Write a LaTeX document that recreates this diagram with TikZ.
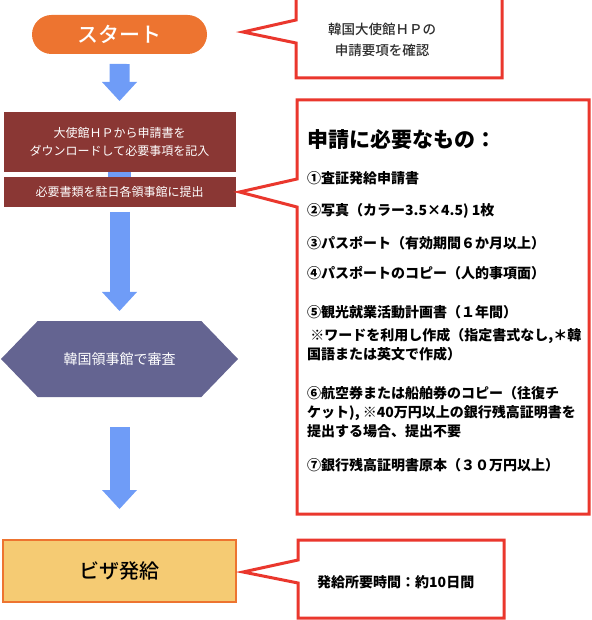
\documentclass[tikz,border=0pt]{standalone}
\usepackage{fontspec}
\setmainfont{Noto Sans CJK JP}
\IfFontExistsTF{Noto Sans CJK JP Medium}{\newfontfamily\medfont{Noto Sans CJK JP Medium}}{\newcommand\medfont{\bfseries}}
\usepackage{tikz}
\usetikzlibrary{shapes.misc, shapes.symbols, arrows.meta, positioning, calc}
\usepackage{xcolor}
\definecolor{startorange}{RGB}{237,116,48}
\definecolor{arrowblue}{RGB}{111,156,247}
\definecolor{formred}{RGB}{138,55,52}
\definecolor{reviewpurple}{RGB}{100,100,145}
\definecolor{visayellow}{RGB}{245,203,115}
\definecolor{notered}{RGB}{234,55,45}
\definecolor{notegray}{RGB}{45,45,45}
\tikzstyle{flowbox} = [rectangle, inner sep=0pt, outer sep=0pt, text=white, fill=formred, minimum width=232pt, align=center, font=\fontsize{12}{18}\selectfont]
\tikzstyle{flowarrow} = [line width=20pt, draw=arrowblue, -{Triangle[width=35pt,length=19pt,line width=0pt]}]
\tikzstyle{notebox} = [rectangle, inner sep=0pt, outer sep=0pt]
\tikzstyle{noteline} = [draw=notered, line width=3pt, fill=white, line join=miter]
\tikzstyle{needitem} = [anchor=west, inner sep=0pt, align=left, font=\bfseries\fontsize{14}{19}\selectfont]

\begin{document}
\begin{tikzpicture}[x=1pt, y=-1pt]
  \useasboundingbox (0,0) rectangle (591,620);

  % flow on the left
  \node[rounded rectangle, fill=startorange, text=white, minimum width=175pt, minimum height=39pt, inner sep=0pt, outer sep=0pt, font=\medfont\fontsize{21}{21}\selectfont] (start) at (119.5,34.5) {スタート};
  \node[flowbox, minimum height=60pt, below=58pt of start] (download) {大使館ＨＰから申請書を\\ダウンロードして必要事項を記入};
  \node[flowbox, minimum height=30pt, below=5pt of download] (submit) {必要書類を駐日各領事館に提出};
  \node[signal, signal to=east and west, signal pointer angle=92, fill=reviewpurple, text=white, minimum width=237pt, minimum height=76pt, inner sep=0pt, outer sep=0pt, font=\fontsize{14}{14}\selectfont, below=114pt of submit] (review) {韓国領事館で審査};
  \node[rectangle, fill=visayellow, draw=startorange, line width=2.5pt, minimum width=233pt, minimum height=62pt, outer sep=0pt, font=\medfont\fontsize{20}{20}\selectfont, below=143pt of review] (visa) {ビザ発給};

  \draw[flowarrow, shorten <=10pt, shorten >=11pt] (start) -- (download);
  \draw[line width=23pt, draw=arrowblue] (download) -- (submit);
  \draw[flowarrow, shorten <=5pt, shorten >=10pt] (submit) -- (review);
  \draw[flowarrow, shorten <=30pt, shorten >=31pt] (review) -- (visa);

  % callout: homepage
  \node[notebox, minimum width=206pt, minimum height=80pt] (hpnote) at (399,38) {};
  \coordinate (hptip) at ($(start.east)+(36pt,2.5pt)$);
  \draw[noteline] (hpnote.north west) -- (hpnote.north east) -- (hpnote.south east) -- (hpnote.south west)
    -- (hpnote.west |- 0,43) -- (hptip) -- (hpnote.west |- 0,20) -- cycle;
  \node[font=\medfont\fontsize{13.5}{21}\selectfont, text=notegray, align=center] (hptext) at (382,40) {韓国大使館ＨＰの\\申請要項を確認};

  % callout: documents
  \node[notebox, minimum width=292pt, minimum height=414pt] (needs) at (443,307) {};
  \coordinate (needtip) at ($(submit.east)+(4pt,0)$);
  \draw[noteline] (needs.north west) -- (needs.north east) -- (needs.south east) -- (needs.south west)
    -- (needs.west |- 0,207) -- (needtip) -- (needs.west |- 0,179) -- cycle;
  \node[anchor=west, inner sep=0pt, font=\bfseries\fontsize{21}{21}\selectfont] (needhead) at (307,140) {申請に必要なもの：};
  \node[needitem] (item1) at (307,178) {①査証発給申請書};
  \node[needitem] (item2) at (307,211) {②写真（カラー3.5×4.5) 1枚};
  \node[needitem] (item3) at (307,243) {③パスポート（有効期間６か月以上）};
  \node[needitem] (item4) at (307,273) {④パスポートのコピー（人的事項面）};
  \node[needitem] (item5) at (307,312) {⑤観光就業活動計画書（１年間）};
  \node[needitem] (item5note) at (307,344.5) {\ ※ワードを利用し作成（指定書式なし,＊韓\\国語または英文で作成）};
  \node[needitem] (item6) at (307,412) {⑥航空券または船舶券のコピー（往復チ\\ケット), ※40万円以上の銀行残高証明書を\\提出する場合、提出不要};
  \node[needitem] (item7) at (307,465) {⑦銀行残高証明書原本（３０万円以上）};

  % callout: processing time
  \node[notebox, minimum width=206pt, minimum height=78pt] (timenote) at (401,579) {};
  \coordinate (timetip) at ($(visa.east)+(7pt,-1pt)$);
  \draw[noteline] (timenote.north west) -- (timenote.north east) -- (timenote.south east) -- (timenote.south west)
    -- (timenote.west |- 0,583) -- (timetip) -- (timenote.west |- 0,560) -- cycle;
  \node[anchor=west, inner sep=0pt, font=\bfseries\fontsize{14}{14}\selectfont] (timetext) at (317,582) {発給所要時間：約10日間};
\end{tikzpicture}
\end{document}
